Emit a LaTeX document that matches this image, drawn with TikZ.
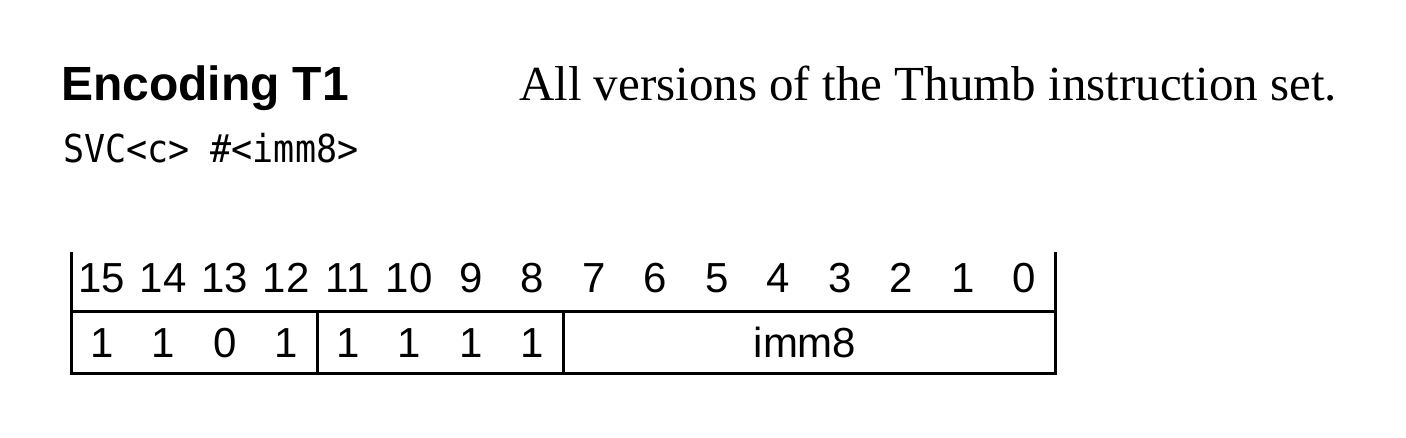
\documentclass[tikz,border=0pt]{standalone}
\usepackage{fontspec}
\newfontfamily\sansw{Liberation Sans}
\newfontfamily\serifrm{Liberation Serif}
\newfontfamily\svcmono[FakeStretch=0.91]{DejaVu Sans Mono}
\begin{document}
\begin{tikzpicture}[x=1pt,y=-1pt,
  txt/.style={inner sep=0pt, outer sep=0pt},
  bitnum/.style={txt, anchor=base, font=\sansw\fontsize{42}{44}\selectfont},
  frame/.style={line width=3pt, line join=miter}]
\useasboundingbox (0,0) rectangle (1406,438);
% title and text
\node[txt, anchor=base west, font=\sansw\bfseries\fontsize{48}{50}\selectfont] (title) at (61,101) {Encoding T1};
\node[txt, anchor=base west, font=\serifrm\fontsize{49}{52}\selectfont] (desc) at (519,101) {All versions of the Thumb instruction set.};
\node[txt, anchor=base west, font=\svcmono\fontsize{38.5}{40}\selectfont] (syntax) at (63,163) {SVC<c> \#<imm8>};
% frame
\draw[frame] (71,252) -- (71,373) -- (1055,373) -- (1055,252);
\draw[frame] (71,312) -- (1055,312);
\draw[frame] (317,312) -- (317,373);
\draw[frame] (563,312) -- (563,373);
% bit numbers
\foreach \i in {0,...,15} {
  \node[bitnum] (h\i) at ({1055-(\i+0.5)*61.5},293) {\i};
}
% fields
\foreach \b/\v in {15/1,14/1,13/0,12/1,11/1,10/1,9/1,8/1} {
  \node[bitnum] (v\b) at ({1055-(\b+0.5)*61.5},357) {\v};
}
\node[bitnum] (imm) at (805,357) {imm8};
\end{tikzpicture}
\end{document}
